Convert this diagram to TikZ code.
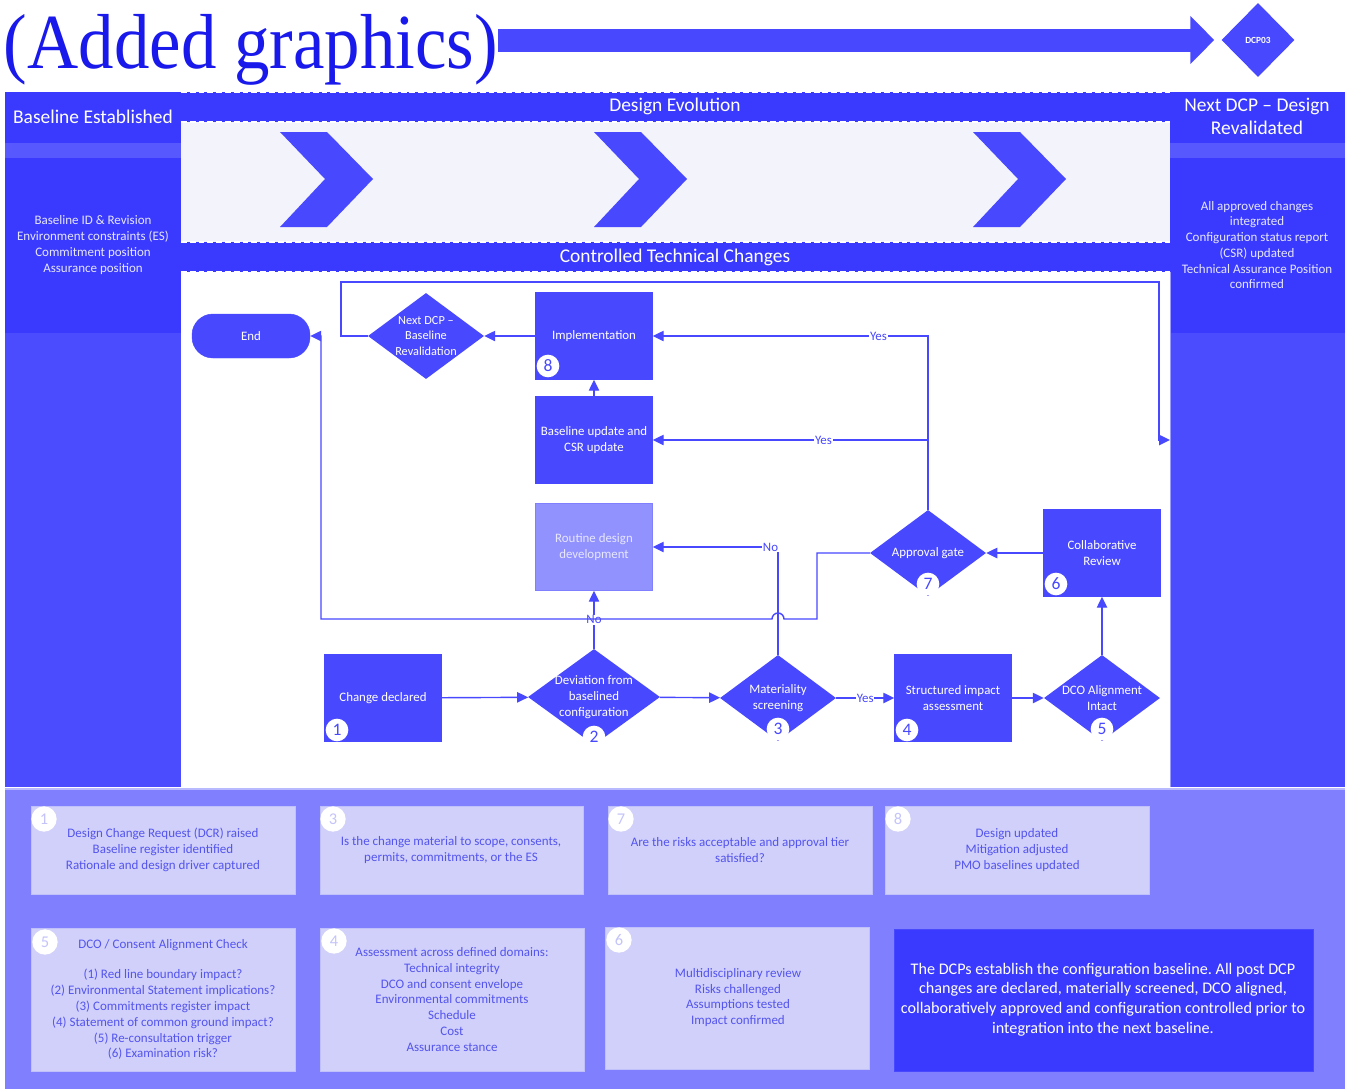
\documentclass[tikz,border=0pt]{standalone}
\usepackage{fontspec}
\setmainfont{Carlito}
\newfontfamily\titleserif{Liberation Serif}
\usepackage{graphicx}
\usepackage{tikz}
\usetikzlibrary{shapes,shapes.geometric}
\usetikzlibrary{arrows.meta}
\definecolor{bandblue}{RGB}{58,58,255}
\definecolor{boxblue}{RGB}{72,72,255}
\definecolor{lowblue}{RGB}{76,76,255}
\definecolor{stripblue}{RGB}{88,88,255}
\definecolor{palefill}{RGB}{243,243,251}
\definecolor{routinefill}{RGB}{146,146,255}
\definecolor{panelfill}{RGB}{128,128,255}
\definecolor{cardfill}{RGB}{208,208,250}
\definecolor{cardink}{RGB}{84,84,238}
\definecolor{softwhite}{RGB}{230,230,255}
\definecolor{titleblue}{RGB}{25,25,235}
\frenchspacing

\begin{document}
\begin{tikzpicture}[x=0.03cm,y=-0.03cm,
	procbox/.style={fill=boxblue,draw=boxblue,text=white,minimum width=3.51cm,minimum height=2.61cm,inner sep=0pt,align=center,font=\fontsize{11}{13.6}\selectfont},
	gate/.style={diamond,fill=boxblue,inner sep=0pt,minimum width=3.48cm,minimum height=2.58cm},
	gatetext/.style={text=white,align=center,font=\fontsize{11}{13.6}\selectfont},
	badge/.style={circle,fill=white,text=boxblue,inner sep=0pt,minimum size=0.68cm,font=\fontsize{15}{15}\selectfont},
	flow/.style={draw=boxblue,line width=1.2pt,-{Triangle[length=3.3mm,width=3.1mm]}},
	yesno/.style={fill=white,text=boxblue,inner sep=0.6pt,font=\fontsize{11}{11}\selectfont},
	headtxt/.style={text=white,align=center,font=\fontsize{16.6}{19.6}\selectfont},
	coltxt/.style={text=softwhite,align=center,font=\fontsize{11.1}{13.4}\selectfont},
	card/.style={fill=cardfill,draw=cardfill!80!panelfill,inner sep=0pt},
	cardtxt/.style={text=cardink,align=center,font=\fontsize{11.1}{13.5}\selectfont},
	cardbadge/.style={circle,fill=white,text=cardfill!85!panelfill,inner sep=0pt,minimum size=0.76cm,font=\fontsize{14}{14}\selectfont},
	dashedge/.style={draw=white,line width=1.2pt,dash pattern=on 5pt off 2.5pt},
	]
	\useasboundingbox (0,0) rectangle (1349,1089);
	\fill[bandblue] (5,92) rectangle (1345,787);
	\fill[stripblue] (5,143) rectangle (181,158);
	\fill[lowblue] (5,333) rectangle (181,787);
	\fill[stripblue] (1170,143) rectangle (1345,158);
	\fill[lowblue] (1170,333) rectangle (1345,787);
	\fill[palefill] (181,122) rectangle (1170,242);
	\fill[white] (181,272) rectangle (1170,787);
	\draw[dashedge] (181,92) -- (1170,92);
	\draw[dashedge] (181,122) -- (1170,122);
	\draw[dashedge] (181,242) -- (1170,242);
	\draw[dashedge] (181,272) -- (1170,272);
	\draw[boxblue!55,line width=0.6pt] (1170,272) -- (1170,787);
	\fill[panelfill] (5,789) rectangle (1345,1089);
	\draw[panelfill!55!white,line width=1pt] (5,789) -- (1345,789);
	
	\node[anchor=base,text=titleblue,inner sep=0pt] (title) at (251,68) {\titleserif\fontsize{60.5}{60}\selectfont\scalebox{1}[1.1]{(Added graphics)}};
	\node[gate,minimum width=2.19cm,minimum height=2.22cm,label={[text=white,font=\fontsize{8}{8}\selectfont\bfseries]center:DCP03}] (dcp) at (1258,40) {};
	\draw[boxblue,line width=0.69cm,shorten >=0.21cm,-{Triangle[length=0.72cm,width=1.4cm]}] (title.east |- dcp.west) -- (dcp.west);
	
	\node[headtxt] (basehead) at (93,117) {Baseline Established};
	\node[headtxt] (evolhead) at (675,106) {Design Evolution};
	\node[headtxt] (ctrlhead) at (675,257) {Controlled Technical Changes};
	\node[headtxt] (nexthead) at (1257,116) {Next DCP -- Design\\Revalidated};
	\node[coltxt] (basetxt) at (93,245) {Baseline ID \& Revision\\Environment constraints (ES)\\Commitment position\\Assurance position};
	\node[coltxt] (nexttxt) at (1257,245) {All approved changes\\integrated\\Configuration status report\\(CSR) updated\\Technical Assurance Position\\confirmed};
	
	\fill[boxblue] (280,132) -- (327,132) -- (373,179) -- (327,227) -- (280,227) -- (325,179) -- cycle;
	\fill[boxblue] (594,132) -- (641,132) -- (687,179) -- (641,227) -- (594,227) -- (639,179) -- cycle;
	\fill[boxblue] (973,132) -- (1020,132) -- (1066,179) -- (1020,227) -- (973,227) -- (1018,179) -- cycle;
	
	\node[procbox,rounded corners=0.63cm,minimum width=3.54cm,minimum height=1.32cm] (end) at (251,336) {End};
	\node[gate,label={[gatetext,font=\fontsize{10.5}{13.6}\selectfont]center:Next DCP --\\Baseline\\Revalidation}] (ndcp) at (426,336) {};
	\node[procbox] (impl) at (594,336) {Implementation};
	\node[procbox] (base) at (594,440) {Baseline update and\\CSR update};
	\node[procbox,fill=routinefill,draw=routinefill!75!boxblue,text=softwhite] (rout) at (594,547) {Routine design\\development};
	\node[procbox] (chg) at (383,698) {Change declared};
	\node[gate,minimum width=3.96cm,minimum height=2.88cm,label={[gatetext]center:Deviation from\\baselined\\configuration}] (dev) at (594,697) {};
	\node[gate,label={[gatetext]center:Materiality\\screening}] (mat) at (778,698) {};
	\node[procbox] (sia) at (953,698) {Structured impact\\assessment};
	\node[gate,label={[gatetext]center:DCO Alignment\\Intact}] (dco) at (1102,698) {};
	\node[procbox] (colr) at (1102,553) {Collaborative\\Review};
	\node[gate,label={[gatetext]center:Approval gate}] (appr) at (928,553) {};
	\coordinate (revin) at (1170,440);
	
	\draw[flow] (chg) -- (dev);
	\draw[flow] (dev) -- (mat);
	\draw[flow] (mat) -- node[yesno]{Yes} (sia);
	\draw[flow] (sia) -- (dco);
	\draw[flow] (dco) -- (colr);
	\draw[flow] (colr) -- (appr);
	\draw[flow] (appr.north) |- node[yesno,pos=0.69]{Yes} (base.east);
	\draw[flow] (appr.north) |- node[yesno,pos=0.59]{Yes} (impl.east);
	\draw[flow] (dev) -- node[yesno]{No} (rout);
	\draw[flow] (mat.north) |- node[yesno,pos=0.53]{No} (rout.east);
	\draw[flow] (base) -- (impl);
	\draw[flow] (impl) -- (ndcp);
	\draw[flow] (appr.west) -- (817,553) -- (817,619) -- (784,619) arc[start angle=0,end angle=-180,radius=6] -- (321,619) |- (end.east);
	\draw[flow] (ndcp.west) -- (341,336) -- (341,282) -- (1159,282) |- (revin);
	
	\node[badge] (n1) at (337,730) {1};
	\node[badge] (n2) at (594,737) {2};
	\node[badge] (n3) at (778,729) {3};
	\node[badge] (n4) at (907,730) {4};
	\node[badge] (n5) at (1102,729) {5};
	\node[badge] (n6) at (1056,584) {6};
	\node[badge] (n7) at (928,584) {7};
	\node[badge] (n8) at (548,366) {8};
	
	\node[card,minimum width=7.92cm,minimum height=2.64cm] (card1) at (163,850) {};
	\node[card,minimum width=7.89cm,minimum height=2.64cm] (card3) at (451.5,850) {};
	\node[card,minimum width=7.92cm,minimum height=2.64cm] (card7) at (740,850) {};
	\node[card,minimum width=7.92cm,minimum height=2.64cm] (card8) at (1017,850) {};
	\node[card,minimum width=7.92cm,minimum height=4.29cm] (card5) at (163,999.5) {};
	\node[card,minimum width=7.92cm,minimum height=4.29cm] (card4) at (452,999.5) {};
	\node[card,minimum width=7.92cm,minimum height=4.26cm] (card6) at (737,998) {};
	\node[fill=bandblue,draw=bandblue!80!panelfill,inner sep=0pt,minimum width=12.57cm,minimum height=4.26cm] (summary) at (1103.5,1000) {};
	\node[cardbadge] (cb1) at (44,819) {1};
	\node[cardbadge] (cb3) at (333,819) {3};
	\node[cardbadge] (cb7) at (621,819) {7};
	\node[cardbadge] (cb8) at (898,819) {8};
	\node[cardbadge] (cb5) at (45,942) {5};
	\node[cardbadge] (cb4) at (334,941) {4};
	\node[cardbadge] (cb6) at (619,940) {6};
	\node[cardtxt] (ct1) at (163,850) {Design Change Request (DCR) raised\\Baseline register identified\\Rationale and design driver captured};
	\node[cardtxt] (ct3) at (451,850) {Is the change material to scope, consents,\\permits, commitments, or the ES};
	\node[cardtxt] (ct7) at (740,850) {Are the risks acceptable and approval tier\\satisfied?};
	\node[cardtxt] (ct8) at (1017,850) {Design updated\\Mitigation adjusted\\PMO baselines updated};
	\node[cardtxt] (ct5a) at (163,945) {DCO / Consent Alignment Check};
	\node[cardtxt] (ct5) at (163,1014.5) {(1) Red line boundary impact?\\(2) Environmental Statement implications?\\(3) Commitments register impact\\(4) Statement of common ground impact?\\(5) Re-consultation trigger\\(6) Examination risk?};
	\node[cardtxt] (ct4) at (452,999.5) {Assessment across defined domains:\\Technical integrity\\DCO and consent envelope\\Environmental commitments\\Schedule\\Cost\\Assurance stance};
	\node[cardtxt] (ct6) at (738,997.5) {Multidisciplinary review\\Risks challenged\\Assumptions tested\\Impact confirmed};
	\node[text=white,align=center,font=\fontsize{13.8}{16.8}\selectfont] (sumtxt) at (1103,999.5) {The DCPs establish the configuration baseline. All post DCP\\changes are declared, materially screened, DCO aligned,\\collaboratively approved and configuration controlled prior to\\integration into the next baseline.};
\end{tikzpicture}
\end{document}
